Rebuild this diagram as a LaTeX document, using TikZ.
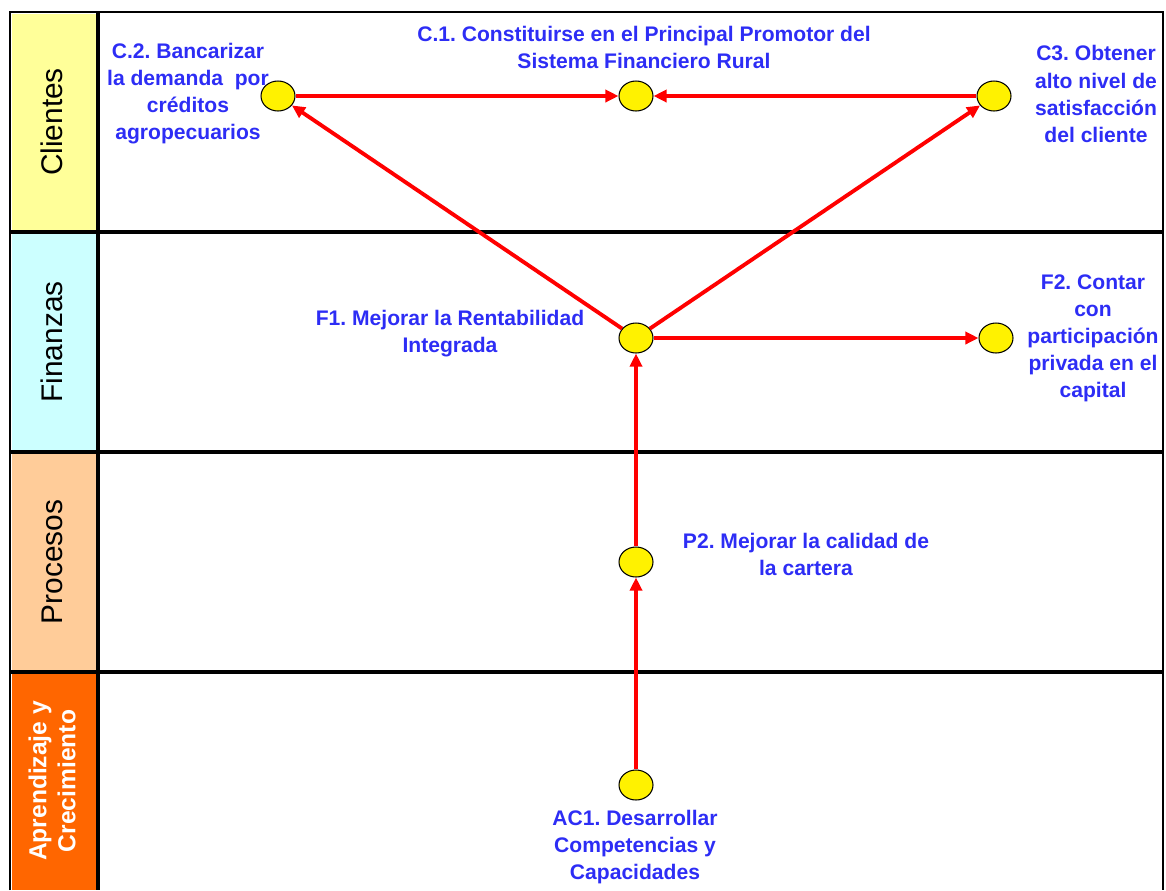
\documentclass[tikz,border=0pt]{standalone}
\usepackage{fontspec}
\setmainfont{Liberation Sans}
\usepackage{xcolor}
\usetikzlibrary{
    arrows.meta,
    shapes.geometric,
    positioning
}
\definecolor{objblue}{RGB}{45,45,245}
\definecolor{linkred}{RGB}{255,0,0}
\definecolor{cliyellow}{RGB}{255,255,153}
\definecolor{fincyan}{RGB}{204,255,255}
\definecolor{procpeach}{RGB}{255,204,153}
\definecolor{aprorange}{RGB}{255,102,0}
\frenchspacing
\tikzset{
    objective/.style={ellipse, draw=black, line width=0.6pt, fill=yellow,
        minimum width=0.68cm, minimum height=0.6cm, inner sep=0pt},
    obj label/.style={text=objblue, align=center, inner sep=1pt,
        font=\bfseries\fontsize{12}{15.4}\selectfont},
    link/.style={draw=linkred, line width=2.2pt,
        -{Triangle[length=0.26cm, width=0.24cm]}},
    persp/.style={rotate=90, align=center, font=\fontsize{17}{20}\selectfont}
}

\begin{document}
\begin{tikzpicture}[x=0.02cm, y=-0.02cm]
        \useasboundingbox (0,0) rectangle (1166,890);
        % perspective column
        \fill[cliyellow] (12,14) rectangle (96,230);
        \fill[fincyan] (12,234) rectangle (96,450);
        \fill[procpeach] (12,454) rectangle (96,670);
        \fill[aprorange] (12,674) rectangle (96,890);
        \node[persp] (cli) at (52,122) {Clientes};
        \node[persp] (fin) at (52,342) {Finanzas};
        \node[persp] (proc) at (52,562) {Procesos};
        \node[persp, text=white, font=\bfseries\fontsize{14}{16.5}\selectfont] (apr) at (52,781) {Aprendizaje y\\Crecimiento};
        % frame
        \draw[line width=1.5pt] (10,890) -- (10,12) -- (1163,12) -- (1163,890);
        \draw[line width=2.6pt] (98,12) -- (98,890);
        \foreach \y in {232,452,672}
            \draw[line width=2.3pt] (10,\y) -- (1163,\y);
        % objectives
        \node[objective] (C2) at (278,96) {};
        \node[objective] (C1) at (636,96) {};
        \node[objective] (C3) at (994,96) {};
        \node[objective] (F1) at (636,338) {};
        \node[objective] (F2) at (996,338) {};
        \node[objective] (P2) at (636,562) {};
        \node[objective] (AC1) at (636,785) {};
        \node[obj label] (C2-lbl) at (188,94) {C.2. Bancarizar\\la demanda~ por\\créditos\\agropecuarios};
        \node[obj label] (C1-lbl) at (644,47) {C.1. Constituirse en el Principal Promotor del\\Sistema Financiero Rural};
        \node[obj label] (C3-lbl) at (1096,94) {C3. Obtener\\alto nivel de\\satisfacción\\del cliente};
        \node[obj label] (F1-lbl) at (450,334) {F1. Mejorar la Rentabilidad\\Integrada};
        \node[obj label] (F2-lbl) at (1093,338) {F2. Contar\\con\\participación\\privada en el\\capital};
        \node[obj label] (P2-lbl) at (806,554) {P2. Mejorar la calidad de\\la cartera};
        \node[obj label] (AC1-lbl) at (635,847) {AC1. Desarrollar\\Competencias y\\Capacidades};
        % links
        \draw[link] (C2) -- (C1);
        \draw[link] (C3) -- (C1);
        \draw[link] (F1) -- (C2);
        \draw[link] (F1) -- (C3);
        \draw[link] (F1) -- (F2);
        \draw[link] (P2) -- (F1);
        \draw[link] (AC1) -- (P2);
\end{tikzpicture}
\end{document}
